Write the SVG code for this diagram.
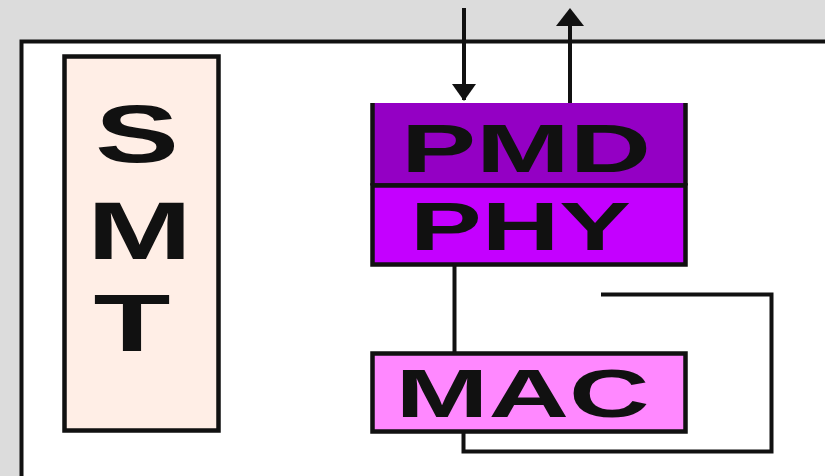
<svg xmlns="http://www.w3.org/2000/svg" width="825" height="476" viewBox="0 0 825 476">
<style>
.box{stroke:#111;stroke-width:4.5}
.lbl{font-family:"Liberation Sans",Arial,sans-serif;font-weight:bold;fill:#111}
.wire{fill:none;stroke:#111;stroke-width:4}
</style>
<rect x="0" y="0" width="825" height="476" fill="#DCDCDC"/>
<rect id="frame" x="21.5" y="41.5" width="820" height="450" fill="#FFFFFF" stroke="#111" stroke-width="4"/>
<g id="smt">
<rect class="box" x="64.5" y="56.5" width="154" height="374" fill="#FFEEE6"/>
<text class="lbl" x="95" y="162" font-size="81" textLength="84" lengthAdjust="spacingAndGlyphs">S</text>
<text class="lbl" x="87" y="259" font-size="81" textLength="105" lengthAdjust="spacingAndGlyphs">M</text>
<text class="lbl" x="93.5" y="351" font-size="81" textLength="77" lengthAdjust="spacingAndGlyphs">T</text>
</g>
<g id="pmd">
<rect x="372.5" y="103" width="313" height="82" fill="#9400C4"/>
<path d="M372.5 103V185.5M685.5 103V185.5M372.5 185.5H685.5" stroke="#111" stroke-width="4.5" fill="none"/>
<text class="lbl" x="401" y="172" font-size="68" textLength="250" lengthAdjust="spacingAndGlyphs">PMD</text>
</g>
<g id="phy">
<rect class="box" x="372.5" y="185.5" width="313" height="79" fill="#C400FF"/>
<text class="lbl" x="410" y="250" font-size="68" textLength="221" lengthAdjust="spacingAndGlyphs">PHY</text>
</g>
<g id="mac">
<rect class="box" x="372.5" y="353.5" width="313" height="78" fill="#FF88FF"/>
<text class="lbl" x="395.5" y="417" font-size="68" textLength="254" lengthAdjust="spacingAndGlyphs">MAC</text>
</g>
<g id="connectors">
<path class="wire" d="M464 8V100"/>
<polygon points="452,84 476,84 464,101" fill="#111"/>
<path class="wire" d="M570 103V20"/>
<polygon points="556,26 584,26 570,8" fill="#111"/>
<path class="wire" d="M454.5 264V353"/>
<path class="wire" d="M601 294.5H771.5V451.5H463.5V431"/>
</g>
</svg>
